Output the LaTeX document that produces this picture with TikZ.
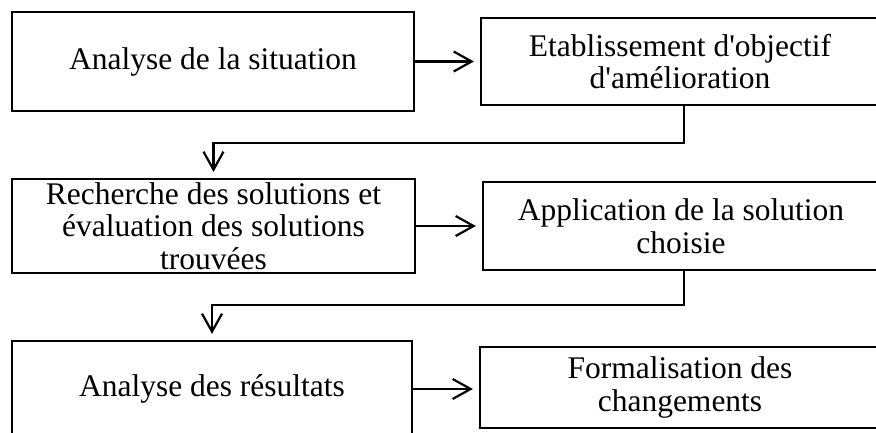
\documentclass[tikz,border=0pt]{standalone}
\usepackage{fontspec}
\setmainfont{Liberation Serif}
\usetikzlibrary{arrows.meta}
\begin{document}
\begin{tikzpicture}[x=1pt,y=-1pt,
  stepbox/.style={draw, line width=2.2pt, inner sep=0pt, align=center,
    font=\fontsize{31.5}{32.5}\selectfont},
  link/.style={line width=2.2pt,
    -{Straight Barb[length=18pt,width=20pt,line width=2.2pt]}, shorten >=6pt}
]
\useasboundingbox (0,0) rectangle (876,432);
\begin{scope}
\clip (0,0) rectangle (876,432);
% left column
\node[stepbox, minimum width=402pt, minimum height=99pt] (b1) at (213,61.5)
  {Analyse de la situation};
\node[stepbox, minimum width=403pt, minimum height=94pt] (b3) at (213.5,226)
  {Recherche des solutions et\\ évaluation des solutions\\ trouvées};
\node[stepbox, minimum width=400pt, minimum height=96pt] (b5) at (212,389)
  {Analyse des résultats};
% right column
\node[stepbox, minimum width=398pt, minimum height=87pt] (b2) at (680,61.5)
  {Etablissement d\textquotesingle objectif\\ d\textquotesingle amélioration};
\node[stepbox, minimum width=396pt, minimum height=88pt] (b4) at (681,226)
  {Application de la solution\\ choisie};
\node[stepbox, minimum width=400pt, minimum height=81pt] (b6) at (680,387.5)
  {Formalisation des\\ changements};
% horizontal links
\draw[link] (b1.east) -- (b2.west |- b1.east);
\draw[link] (b3.east) -- (b4.west |- b3.east);
\draw[link] (b5.east) -- (b6.west |- b5.east);
% return links down to the next row
\draw[link] ([xshift=4pt]b2.south) -- ++(0,37) -| (b3.north);
\draw[link] ([xshift=3pt]b4.south) -- ++(0,34) -| (b5.north);
\end{scope}
\end{tikzpicture}
\end{document}
